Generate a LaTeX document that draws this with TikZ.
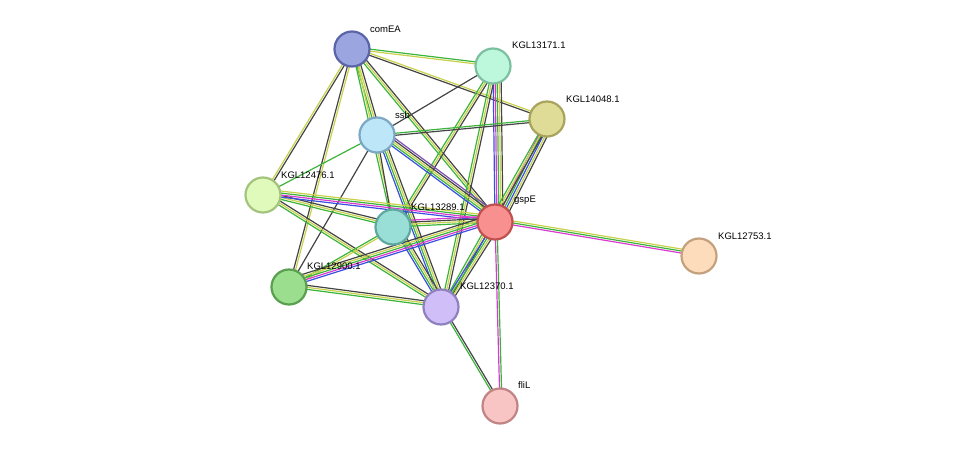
\documentclass[tikz,border=0pt]{standalone}
\usepackage{fontspec}
\setmainfont{Liberation Sans}
\usetikzlibrary{calc}

\definecolor{egreen}{HTML}{3CB43C}
\definecolor{eyellow}{HTML}{C8D24A}
\definecolor{eblack}{HTML}{444444}
\definecolor{eblue}{HTML}{3A4FE0}
\definecolor{epink}{HTML}{D83AD0}
\definecolor{epurple}{HTML}{7A4FB0}

\definecolor{f_comEA}{HTML}{9BA5E0}   \definecolor{d_comEA}{HTML}{5A64A8}
\definecolor{f_k13171}{HTML}{BDF8DC}  \definecolor{d_k13171}{HTML}{7CC0A0}
\definecolor{f_k14048}{HTML}{DEDC96}  \definecolor{d_k14048}{HTML}{A8A45C}
\definecolor{f_ssb}{HTML}{BDE6F8}     \definecolor{d_ssb}{HTML}{7CA8C4}
\definecolor{f_k12476}{HTML}{E0FABC}  \definecolor{d_k12476}{HTML}{A4C47E}
\definecolor{f_k13289}{HTML}{9ADED8}  \definecolor{d_k13289}{HTML}{5EA8A0}
\definecolor{f_gspE}{HTML}{F89090}    \definecolor{d_gspE}{HTML}{C05050}
\definecolor{f_k12753}{HTML}{FDDCBC}  \definecolor{d_k12753}{HTML}{C4A07C}
\definecolor{f_k12900}{HTML}{9ADE8E}  \definecolor{d_k12900}{HTML}{58A050}
\definecolor{f_k12370}{HTML}{D0BEF8}  \definecolor{d_k12370}{HTML}{9080C0}
\definecolor{f_fliL}{HTML}{F8C4C4}    \definecolor{d_fliL}{HTML}{C08484}

% one coloured strand per entry, side by side
\newcommand{\stredge}[3]{%
  \foreach \col [count=\i] in {#3} {
    \pgfmathsetmacro{\off}{(\i-1)*2}
    \draw[line_edge, \col] ($(#1)!\off pt!90:(#2)$) -- ($(#2)!\off pt!-90:(#1)$);
  }}

\begin{document}
\begin{tikzpicture}[x=1pt, y=-1pt, font=\fontsize{9.5}{11}\selectfont]
    \tikzstyle{node_prot} = [circle, minimum size=35pt, inner sep=0pt, line width=2.2pt]
    \tikzstyle{line_edge} = [line width=1.2pt]
    \tikzstyle{label_prot} = [anchor=south west, inner sep=1pt]

    \useasboundingbox (0,0) rectangle (975,452);

    \coordinate (comEA) at (352,49);
    \coordinate (k13171) at (493,66);
    \coordinate (k14048) at (547,119);
    \coordinate (ssb) at (377,135);
    \coordinate (k12476) at (263,195);
    \coordinate (k13289) at (393,227);
    \coordinate (gspE) at (495,222);
    \coordinate (k12753) at (699,256);
    \coordinate (k12900) at (289,287);
    \coordinate (k12370) at (441,307);
    \coordinate (fliL) at (500,406);

    \stredge{comEA}{k13171}{eyellow,egreen}
    \stredge{comEA}{k14048}{eblack,eyellow}
    \stredge{comEA}{ssb}{egreen,eyellow,eblack}
    \stredge{comEA}{k12476}{eyellow,eblack}
    \stredge{comEA}{k12900}{eblack,eyellow}
    \stredge{comEA}{k13289}{egreen,eyellow}
    \stredge{comEA}{gspE}{egreen,eyellow,eblack}
    \stredge{k13171}{ssb}{eblack}
    \stredge{k13171}{gspE}{eblue,epink,egreen,eyellow,eblack}
    \stredge{k13171}{k13289}{egreen,eyellow,eblack}
    \stredge{k13171}{k12370}{egreen,eyellow,eblack}
    \stredge{k14048}{ssb}{egreen,eblack}
    \stredge{k14048}{gspE}{epink,egreen,eblue,eyellow,eblack}
    \stredge{k14048}{k12370}{egreen,eyellow,eblack}
    \stredge{ssb}{k12476}{egreen}
    \stredge{ssb}{k12900}{eblack}
    \stredge{ssb}{k13289}{eblack}
    \stredge{ssb}{gspE}{eblue,egreen,eyellow,eblack,epurple}
    \stredge{ssb}{k12370}{eblue,egreen,eyellow,eblack}
    \stredge{k12476}{k13289}{egreen,eyellow,eblack}
    \stredge{k12476}{gspE}{eblue,epink,egreen,eyellow}
    \stredge{k12476}{k12370}{egreen,eyellow,eblack}
    \stredge{k13289}{gspE}{egreen,eyellow,eblack,epink}
    \stredge{k13289}{k12370}{eblue,egreen,eyellow,eblack}
    \stredge{k13289}{k12900}{egreen,eyellow}
    \stredge{k12900}{gspE}{eblue,epink,egreen,eyellow,eblack}
    \stredge{k12900}{k12370}{egreen,eyellow,eblack}
    \stredge{gspE}{k12370}{eblue,egreen,eyellow,eblack}
    \stredge{gspE}{k12753}{epink,egreen,eyellow}
    \stredge{gspE}{fliL}{epink,egreen}
    \stredge{k12370}{fliL}{egreen,eblack}

    \foreach \p in {comEA,k13171,k14048,ssb,k12476,k13289,gspE,k12753,k12900,k12370,fliL}
        \node[node_prot, fill=f_\p, draw=d_\p] (n_\p) at (\p) {};

    \node[label_prot] at (369,34) {comEA};
    \node[label_prot] at (511,50) {KGL13171.1};
    \node[label_prot] at (565,104) {KGL14048.1};
    \node[label_prot] at (394,120) {ssb};
    \node[label_prot] at (280,180) {KGL12476.1};
    \node[label_prot] at (410,212) {KGL13289.1};
    \node[label_prot] at (513,206) {gspE};
    \node[label_prot] at (717,241) {KGL12753.1};
    \node[label_prot] at (306,271) {KGL12900.1};
    \node[label_prot] at (459,291) {KGL12370.1};
    \node[label_prot] at (517,390) {fliL};
\end{tikzpicture}
\end{document}
